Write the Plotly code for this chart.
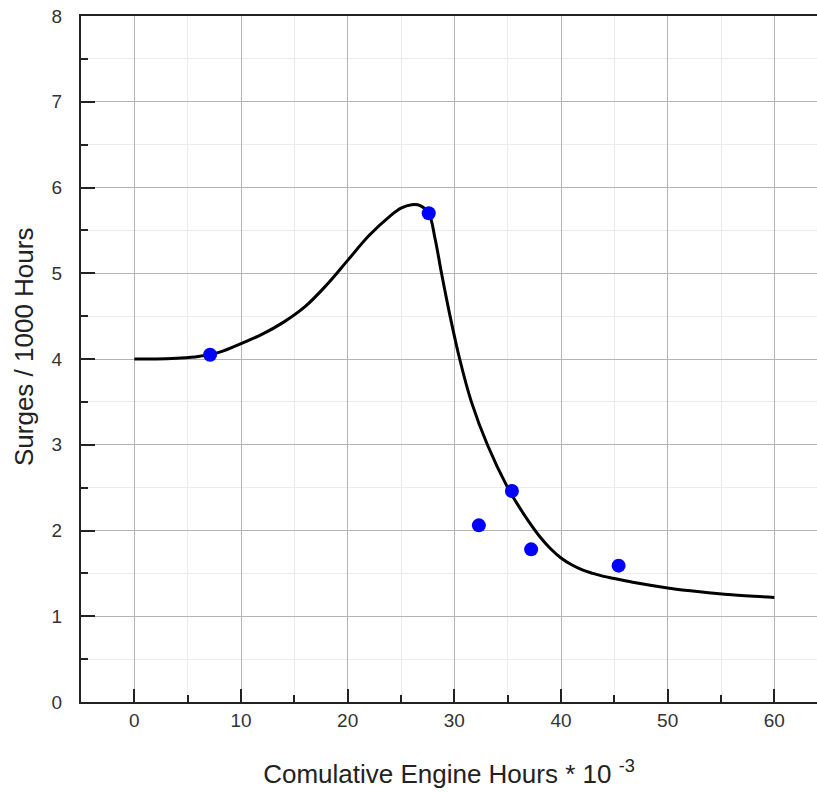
import plotly.graph_objects as go

# Fitted surge-rate curve (thousands of engine hours vs surges per 1000 h)
curve_x = [0, 2, 4, 6, 8, 10, 12, 14, 16, 18, 20, 22, 24, 25, 26, 26.8, 27.6,
           28.2, 28.8, 29.6, 30.5, 31.6, 33.1, 35, 36, 37, 38, 39, 40, 41, 42,
           43, 44, 45, 47, 50, 53, 56, 60]
curve_y = [4.00, 4.00, 4.01, 4.03, 4.08, 4.18, 4.29, 4.43, 4.61, 4.86, 5.15, 5.44, 5.67, 5.76, 5.80, 5.79, 5.70,
           5.40, 5.00, 4.50, 4.00, 3.50, 3.00, 2.50, 2.29, 2.10, 1.93, 1.79, 1.68, 1.60, 1.54,
           1.50, 1.465, 1.44, 1.39, 1.33, 1.285, 1.25, 1.22]

# Observed surge rates
obs_x = [7.1, 27.6, 32.3, 35.4, 37.2, 45.4]
obs_y = [4.05, 5.70, 2.06, 2.46, 1.78, 1.59]

x_ticks = [0, 10, 20, 30, 40, 50, 60]
y_ticks = [0, 1, 2, 3, 4, 5, 6, 7, 8]

fig = go.Figure()
fig.add_trace(go.Scatter(
    x=curve_x, y=curve_y, mode="lines",
    line=dict(color="black", width=3, shape="spline", smoothing=1.0),
    showlegend=False, hoverinfo="skip",
))
fig.add_trace(go.Scatter(
    x=obs_x, y=obs_y, mode="markers",
    marker=dict(color="#0000ff", size=14, line=dict(width=0)),
    showlegend=False,
))

font = dict(family="Liberation Sans, Arial, sans-serif", color="#222222", size=19)

fig.update_layout(
    width=817, height=792,
    margin=dict(l=81, r=0, t=16, b=90),
    paper_bgcolor="white", plot_bgcolor="white",
    font=font,
    xaxis=dict(
        range=[-5, 64], tickvals=x_ticks, ticktext=[str(v) for v in x_ticks],
        showgrid=True, gridcolor="#b4b4b4", gridwidth=1,
        ticks="inside", ticklen=13, tickwidth=2, tickcolor="#222222",
        minor=dict(dtick=5, tick0=0, showgrid=True, gridcolor="#ececec",
                   ticks="inside", ticklen=7, tickwidth=2, tickcolor="#222222"),
        showline=True, linecolor="#222222", linewidth=2, mirror=True,
        zeroline=False, tickfont=dict(size=19, color="#333333"),
        title=dict(text="Comulative Engine Hours * 10 <sup>-3</sup>",
                   font=dict(size=26, color="#222222"), standoff=35),
    ),
    yaxis=dict(
        range=[0, 8], tickvals=y_ticks, ticktext=[str(v) for v in y_ticks],
        showgrid=True, gridcolor="#b4b4b4", gridwidth=1,
        ticks="inside", ticklen=14, tickwidth=2, tickcolor="#222222",
        minor=dict(dtick=0.5, tick0=0, showgrid=True, gridcolor="#ececec",
                   ticks="inside", ticklen=7, tickwidth=2, tickcolor="#222222"),
        showline=True, linecolor="#222222", linewidth=2,
        zeroline=False, tickfont=dict(size=19, color="#333333"), ticklabelstandoff=13,
    ),
    annotations=[dict(
        text="Surges / 1000 Hours", textangle=-90,
        xref="paper", yref="paper", x=-0.0774, y=0.5175,
        xanchor="center", yanchor="middle", showarrow=False,
        font=dict(size=26, color="#222222"),
    )],
)

fig.write_html("out.html")
